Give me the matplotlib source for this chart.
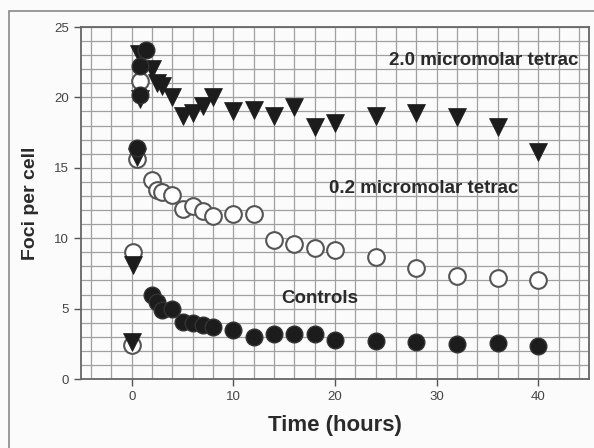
import numpy as np
import matplotlib
matplotlib.use("Agg")
import matplotlib.pyplot as plt
from matplotlib.patches import Rectangle

plt.rcParams['font.family'] = ['Liberation Sans', 'DejaVu Sans']

# Controls (filled circles)
ctrl_t = [0.5, 0.8, 0.85, 1.35, 2, 2.5, 3, 4, 5, 6, 7, 8, 10, 12, 14, 16, 18, 20, 24, 28, 32, 36, 40]
ctrl_y = [16.4, 20.2, 22.2, 23.35, 6.0, 5.5, 4.9, 5.0, 4.05, 3.95, 3.82, 3.7, 3.47, 3.0, 3.23, 3.23, 3.2, 2.8, 2.72, 2.62, 2.46, 2.53, 2.35]

# 0.2 micromolar tetrac (open circles)
low_t = [0, 0.1, 0.5, 0.85, 2, 2.5, 3, 4, 5, 6, 7, 8, 10, 12, 14, 16, 18, 20, 24, 28, 32, 36, 40]
low_y = [2.4, 9.0, 15.6, 21.2, 14.1, 13.4, 13.25, 13.05, 12.1, 12.3, 11.9, 11.6, 11.7, 11.7, 9.9, 9.6, 9.3, 9.15, 8.7, 7.85, 7.3, 7.2, 7.0]

# 2.0 micromolar tetrac (triangles)
high_t = [0, 0.1, 0.5, 0.7, 0.85, 2, 2.5, 3, 4, 5, 6, 7, 8, 10, 12, 14, 16, 18, 20, 24, 28, 32, 36, 40]
high_y = [2.65, 8.1, 15.8, 23.1, 19.9, 22.0, 21.0, 20.8, 20.0, 18.7, 18.9, 19.4, 20.0, 19.0, 19.1, 18.7, 19.3, 17.9, 18.15, 18.7, 18.9, 18.6, 17.9, 16.1]

x_ticks = [0, 10, 20, 30, 40]
y_ticks = [0, 5, 10, 15, 20, 25]

labels = ["2.0 micromolar tetrac", "0.2 micromolar tetrac", "Controls"]

fig = plt.figure(figsize=(5.94, 4.48), dpi=100, facecolor='#fbfbfb')
ax = fig.add_axes([81/594, 1-379/448, (589-81)/594, (379-27)/448])
ax.set_facecolor('#fbfbfb')

ax.set_xlim(-5, 45)
ax.set_ylim(0, 25)
ax.set_xticks(x_ticks)
ax.set_yticks(y_ticks)
ax.set_xticks(np.arange(-4, 45, 2), minor=True)
ax.set_yticks(np.arange(0, 25, 1), minor=True)
ax.grid(True, which='both', color='#a0a0a0', lw=0.9)
ax.set_axisbelow(True)
ax.tick_params(which='minor', length=0)
ax.tick_params(which='major', length=5, width=1, color='#555', labelsize=9.5, labelcolor='#444', direction='out')
for s in ax.spines.values():
    s.set_color('#666')
    s.set_linewidth(1.3)

ms = 12
ax.plot(low_t, low_y, 'o', ls='none', ms=ms, mfc='white', mec='#555', mew=1.5, zorder=3)
ax.plot(high_t, high_y, 'v', ls='none', ms=13, mfc='#1c1c1c', mec='#1c1c1c', mew=0.5, zorder=4)
ax.plot(ctrl_t, ctrl_y, 'o', ls='none', ms=ms, mfc='#1c1c1c', mec='#333', mew=1, zorder=5)

fs = 13.5
ax.text(25.3, 22.6, labels[0], fontsize=fs, fontweight='bold', color='#2a2a2a', va='center', ha='left', zorder=6)
ax.text(19.4, 13.55, labels[1], fontsize=fs, fontweight='bold', color='#2a2a2a', va='center', ha='left', zorder=6)
ax.text(14.7, 5.75, labels[2], fontsize=fs, fontweight='bold', color='#2a2a2a', va='center', ha='left', zorder=6)

ax.set_xlabel("Time (hours)", fontsize=16, fontweight='bold', color='#2a2a2a', labelpad=9)
ax.set_ylabel("Foci per cell", fontsize=14, fontweight='bold', color='#2a2a2a', labelpad=11)

fig.patches.append(Rectangle((9/594, -0.1), 1.2, 1-11/448+0.1, transform=fig.transFigure,
                             fill=False, ec='#888', lw=1.2))

fig.savefig("out.png", dpi=100, facecolor=fig.get_facecolor())
